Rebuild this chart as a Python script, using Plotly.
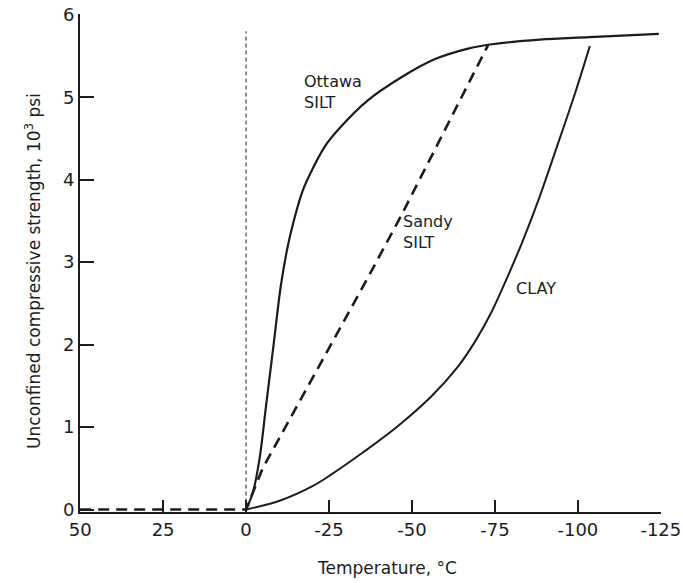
import plotly.graph_objects as go

# ---- data ----
ottawa_T = [0, -2, -4, -6, -8.3, -10.5, -12.5, -14.5, -17, -20.4, -24, -28.5, -36.6, -46.7, -56.8, -66.9, -73.5, -88.5, -103.5, -124.4]
ottawa_S = [0, 0.2, 0.6, 1.25, 2.0, 2.72, 3.18, 3.52, 3.86, 4.16, 4.42, 4.64, 4.96, 5.24, 5.46, 5.59, 5.64, 5.70, 5.73, 5.77]

sandy_T = [50, 25, 0, -5, -20.4, -36.0, -46.7, -56.8, -72.9]
sandy_S = [0, 0, 0, 0.5, 1.62, 2.76, 3.56, 4.36, 5.63]

clay_T = [0, -10.3, -20.3, -25.5, -35.5, -45.7, -55.8, -63.8, -68.9, -73.9, -78.0, -83.0, -88.0, -93.0, -99.0, -103.6]
clay_S = [0, 0.11, 0.29, 0.42, 0.70, 1.01, 1.37, 1.73, 2.03, 2.39, 2.75, 3.22, 3.74, 4.32, 5.03, 5.62]

freeze_T = [0, 0]
freeze_S = [0, 5.8]

x_tickvals = [50, 25, 0, -25, -50, -75, -100, -125]
x_ticktext = ["50", "25", "0", "-25", "-50", "-75", "-100", "-125"]
y_tickvals = [0, 1, 2, 3, 4, 5, 6]

x_title = "Temperature, °C"
y_title = "Unconfined compressive strength, 10<sup>3</sup> psi"

labels_text = ["Ottawa<br>SILT", "Sandy<br>SILT", "CLAY"]
labels_T = [-17.0, -46.7, -80.6]
labels_S = [5.06, 3.36, 2.68]

INK = "#1c1c1c"
FONT = "DejaVu Sans"

fig = go.Figure()

fig.add_trace(go.Scatter(x=freeze_T, y=freeze_S, mode="lines",
                         line=dict(color=INK, width=1, dash="4px,3px"),
                         showlegend=False, hoverinfo="skip"))
fig.add_trace(go.Scatter(x=sandy_T, y=sandy_S, mode="lines", name="Sandy SILT",
                         line=dict(color=INK, width=2.6, dash="11px,7px"),
                         showlegend=False))
fig.add_trace(go.Scatter(x=ottawa_T, y=ottawa_S, mode="lines", name="Ottawa SILT",
                         line=dict(color=INK, width=2.2, shape="spline", smoothing=1.0),
                         showlegend=False))
fig.add_trace(go.Scatter(x=clay_T, y=clay_S, mode="lines", name="CLAY",
                         line=dict(color=INK, width=2.0, shape="spline", smoothing=1.0),
                         showlegend=False))

for txt, tx, ty in zip(labels_text, labels_T, labels_S):
    fig.add_annotation(x=tx, y=ty, text=txt, showarrow=False,
                       xanchor="left", yanchor="middle", align="left",
                       font=dict(family=FONT, size=16, color=INK))

# axis titles, placed where the reference has them
fig.add_annotation(xref="paper", yref="paper", x=0.528, y=-0.112, text=x_title,
                   showarrow=False, xanchor="center", yanchor="middle",
                   font=dict(family=FONT, size=17, color=INK))
fig.add_annotation(xref="paper", yref="paper", x=-0.081, y=0.484, text=y_title,
                   showarrow=False, xanchor="center", yanchor="middle", textangle=-90,
                   font=dict(family=FONT, size=17, color=INK))

fig.update_layout(
    width=683, height=583,
    margin=dict(l=80, r=22, t=14, b=71),
    paper_bgcolor="white", plot_bgcolor="white",
    font=dict(family=FONT, color=INK),
    showlegend=False,
)

fig.update_xaxes(
    range=[50.05, -125.05], tickvals=x_tickvals, ticktext=x_ticktext,
    showline=True, linecolor=INK, linewidth=2,
    ticks="inside", ticklen=12, tickwidth=2, tickcolor=INK,
    showgrid=False, zeroline=False, ticklabeloverflow="allow",
    tickfont=dict(family=FONT, size=18, color=INK),
    layer="above traces", automargin=False,
)
fig.update_yaxes(
    range=[-0.03, 6.01], tickvals=y_tickvals,
    showline=True, linecolor=INK, linewidth=2,
    ticks="inside", ticklen=14, tickwidth=2, tickcolor=INK,
    showgrid=False, zeroline=False, ticklabeloverflow="allow",
    tickfont=dict(family=FONT, size=18, color=INK),
    layer="above traces", automargin=False,
)

# remove the browser's default 8px body margin so the figure sits at the page corner
fig.write_html("out.html", config={"displayModeBar": False},
               post_script="document.body.style.margin='0';")
